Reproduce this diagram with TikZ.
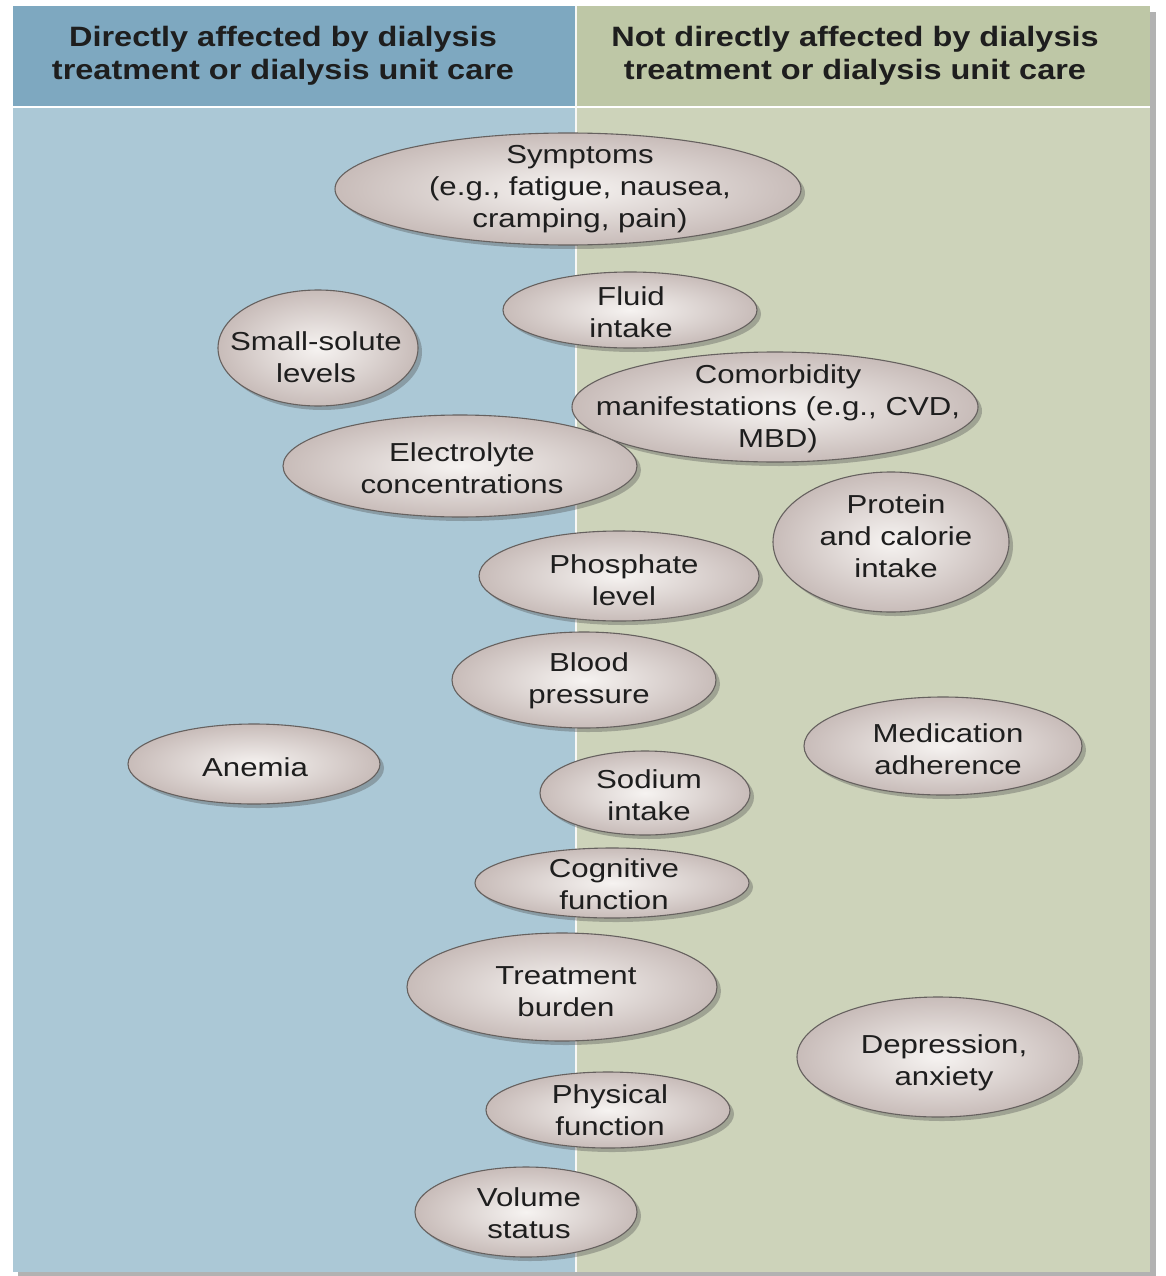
\documentclass[tikz,border=0pt]{standalone}
\usepackage{fontspec}
\setmainfont{Liberation Sans}
\newfontfamily\factorfont[FakeStretch=1.2]{Liberation Sans}
\newfontfamily\headfont[FakeStretch=1.16]{Liberation Sans}
\usetikzlibrary{shapes.geometric,shadows}
\definecolor{hdrL}{HTML}{7EA8C0}
\definecolor{hdrR}{HTML}{BEC7A6}
\definecolor{bodyL}{HTML}{ABC8D6}
\definecolor{bodyR}{HTML}{CDD3BA}
\definecolor{ovalIn}{HTML}{F6F3F1}
\definecolor{ovalOut}{HTML}{C8BCB9}
\definecolor{ovalLine}{HTML}{66615F}
\definecolor{ink}{HTML}{1E1E1E}
\begin{document}
\begin{tikzpicture}[x=1pt,y=-1pt,
  factor/.style={ellipse, inner sep=0pt, draw=ovalLine, line width=1.1pt,
    shading=radial, inner color=ovalIn, outer color=ovalOut,
    drop shadow={shadow xshift=4pt, shadow yshift=-4pt, opacity=0.35, fill=black!70}},
  factxt/.style={align=center, text=ink, inner sep=0pt,
    font=\factorfont\fontsize{26}{32}\selectfont},
  hdr/.style={align=center, text=ink, font=\headfont\fontsize{28}{32.5}\selectfont\bfseries}]
\useasboundingbox (0,0) rectangle (1166,1276);
\fill[white] (0,0) rectangle (1166,1276);
% panel shadow
\fill[black!30] (18,12) rectangle (1156,1277);
% columns
\fill[bodyL] (13,6) rectangle (575,1272);
\fill[bodyR] (577,6) rectangle (1150,1272);
\fill[hdrL] (13,6) rectangle (575,106);
\fill[hdrR] (577,6) rectangle (1150,106);
\draw[white, line width=2pt] (13,107) -- (1150,107);
\draw[white!85!bodyR, line width=2pt] (576,6) -- (576,1272);
% headings
\node[hdr] (hL) at (283,56) {Directly affected by dialysis\\treatment or dialysis unit care};
\node[hdr] (hR) at (855,56) {Not directly affected by dialysis\\treatment or dialysis unit care};
% factor ovals
\node[factor, minimum width=466, minimum height=112] (sym) at (568,189) {};
\node[factor, minimum width=254, minimum height=76] (fluid) at (630,310) {};
\node[factor, minimum width=200, minimum height=116] (solute) at (318,348) {};
\node[factor, minimum width=406, minimum height=110] (comorb) at (775,407) {};
\node[factor, minimum width=354, minimum height=102] (electro) at (460,466) {};
\node[factor, minimum width=236, minimum height=140] (protein) at (891,542) {};
\node[factor, minimum width=280, minimum height=90] (phos) at (619,576) {};
\node[factor, minimum width=264, minimum height=96] (bp) at (584,680) {};
\node[factor, minimum width=278, minimum height=98] (med) at (943,746) {};
\node[factor, minimum width=252, minimum height=80] (anemia) at (254,764) {};
\node[factor, minimum width=210, minimum height=84] (sodium) at (645,793) {};
\node[factor, minimum width=274, minimum height=70] (cog) at (612,883) {};
\node[factor, minimum width=310, minimum height=108] (burden) at (562,987) {};
\node[factor, minimum width=282, minimum height=120] (dep) at (938,1057) {};
\node[factor, minimum width=244, minimum height=76] (phys) at (608,1110) {};
\node[factor, minimum width=222, minimum height=90] (vol) at (526,1212) {};
% factor labels
\node[factxt] (symT) at (580,189) {Symptoms\\(e.g., fatigue, nausea,\\cramping, pain)};
\node[factxt] (fluidT) at (631,312) {Fluid\\intake};
\node[factxt] (soluteT) at (316,357) {Small-solute\\levels};
\node[factxt] (comorbT) at (778,409) {Comorbidity\\manifestations (e.g., CVD,\\MBD)};
\node[factxt] (electroT) at (462,468) {Electrolyte\\concentrations};
\node[factxt] (proteinT) at (896,536) {Protein\\and calorie\\intake};
\node[factxt] (phosT) at (624,580) {Phosphate\\level};
\node[factxt] (bpT) at (589,681) {Blood\\pressure};
\node[factxt] (medT) at (948,749) {Medication\\adherence};
\node[factxt] (anemiaT) at (255,767) {Anemia};
\node[factxt] (sodiumT) at (649,795) {Sodium\\intake};
\node[factxt] (cogT) at (614,884) {Cognitive\\function};
\node[factxt] (burdenT) at (566,992) {Treatment\\burden};
\node[factxt] (depT) at (944,1063) {Depression,\\anxiety};
\node[factxt] (physT) at (610,1110) {Physical\\function};
\node[factxt] (volT) at (529,1213) {Volume\\status};
\end{tikzpicture}
\end{document}
